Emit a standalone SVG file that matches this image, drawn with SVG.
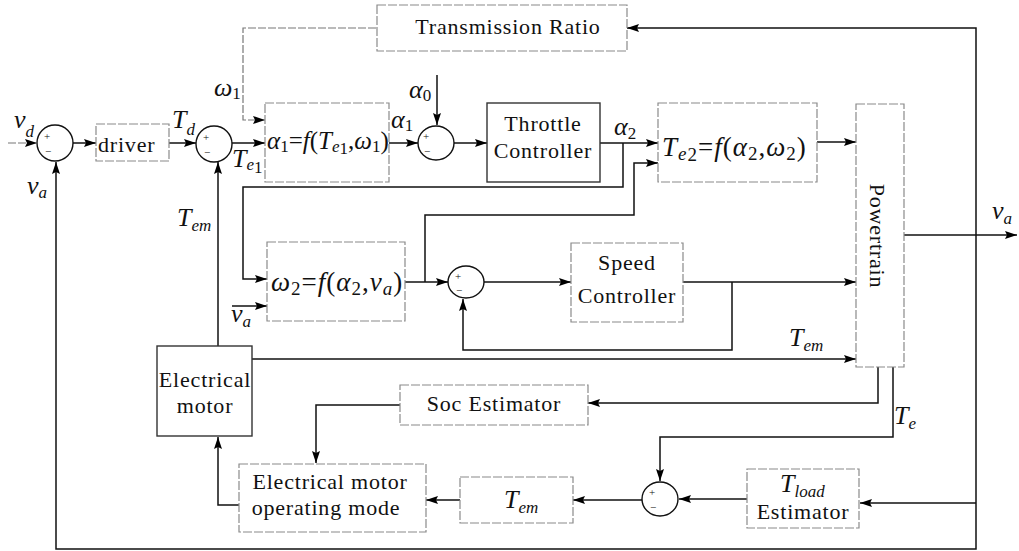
<svg xmlns="http://www.w3.org/2000/svg" width="1019" height="551" viewBox="0 0 1019 551" font-family="'Liberation Serif', 'DejaVu Serif', serif">
<defs>
<marker id="arr" viewBox="0 0 12 8" refX="12" refY="4" markerWidth="12" markerHeight="8" orient="auto" markerUnits="userSpaceOnUse"><path d="M0,0 L12,4 L0,8 L2,4 z" fill="#000"/></marker>
</defs>
<style>
.box{fill:#fff;stroke:#8a8a8a;stroke-width:1.2;stroke-dasharray:9 2}
.sbox{fill:#fff;stroke:#333;stroke-width:1.4}
.sum{fill:#fff;stroke:#111;stroke-width:1.4}
.w{fill:none;stroke:#111;stroke-width:1.5}
.a{marker-end:url(#arr)}
.dw{fill:none;stroke:#777;stroke-width:1.2;stroke-dasharray:8 2}
text{font-family:'Liberation Serif','DejaVu Serif',serif;fill:#111}
.t{font-size:22px;letter-spacing:0.8px}
.m{font-size:26px;font-style:italic}
.s{font-size:17px;font-style:italic}
.f{font-size:27px;font-style:italic;letter-spacing:1px}
.f1{font-size:25px;font-style:italic;letter-spacing:0}
.fs{font-size:19px;font-style:italic}
.n{font-style:normal}
.sg{font-size:11px}
</style>
<g id="connectors">
<path class="dw a" d="M8,143 H37"/>
<path class="w a" d="M73,143 H96"/>
<path class="w a" d="M169,143 H196"/>
<path class="w a" d="M232,143 H265"/>
<path class="w a" d="M976,235 V28 H627"/>
<path class="w a" d="M976,235 V549 H56 V162"/>
<path class="dw a" d="M376,28 H243 V120 H265"/>
<path class="w a" d="M218,346 V162"/>
<path class="w a" d="M389,143 H418"/>
<path class="w a" d="M437,75 V125"/>
<path class="w a" d="M454,143 H487"/>
<path class="w a" d="M600,143 H658"/>
<path class="w a" d="M623,143 V187 H243 V279 H267"/>
<path class="w a" d="M405,282 H448"/>
<path class="w a" d="M425,282 V215 H634 V163 H658"/>
<path class="w a" d="M232,306 H267"/>
<path class="w a" d="M484,282 H571"/>
<path class="w a" d="M683,282 H856"/>
<path class="w a" d="M732,282 V350 H463 V299"/>
<path class="w a" d="M817,142 H856"/>
<path class="w a" d="M252,359 H856"/>
<path class="w a" d="M904,235 H1017"/>
<path class="w a" d="M878,367 V403 H588"/>
<path class="w a" d="M893,367 V437 H660 V481"/>
<path class="w a" d="M400,405 H316 V463"/>
<path class="w a" d="M239,505 H218 V437"/>
<path class="w a" d="M460,500 H426"/>
<path class="w a" d="M642,500 H573"/>
<path class="w a" d="M747,499 H679"/>
<path class="w a" d="M976,503 H860"/>
</g>
<g id="labels">
<text class="m" x="14" y="128">v<tspan class="s" dy="9">d</tspan></text>
<text class="m" x="27" y="194">v<tspan class="s" dy="4">a</tspan></text>
<text class="m" x="172" y="128">T<tspan class="s" dy="7">d</tspan></text>
<text class="m" x="232" y="167">T<tspan class="s" dy="3">e</tspan><tspan class="s n" dy="3">1</tspan></text>
<text class="m" x="214" y="96">ω<tspan class="s n" dy="3">1</tspan></text>
<text class="m" x="391" y="128">α<tspan class="s n" dy="3">1</tspan></text>
<text class="m" x="409" y="98">α<tspan class="s n" dy="3">0</tspan></text>
<text class="m" x="614" y="135">α<tspan class="s n" dy="4">2</tspan></text>
<text class="m" x="177" y="226">T<tspan class="s" dy="5">em</tspan></text>
<text class="m" x="231" y="322">v<tspan class="s" dy="5">a</tspan></text>
<text class="m" x="789" y="346">T<tspan class="s" dy="5">em</tspan></text>
<text class="m" x="992" y="219">v<tspan class="s" dy="5">a</tspan></text>
<text class="m" x="894" y="424">T<tspan class="s" dy="5">e</tspan></text>
</g>
<g id="sum1"><ellipse class="sum" cx="55" cy="143" rx="18" ry="18"/><text class="sg" x="44" y="140">+</text><text class="sg" x="45" y="155">−</text></g>
<g id="sum2"><ellipse class="sum" cx="214" cy="144" rx="18" ry="18"/><text class="sg" x="203" y="141">+</text><text class="sg" x="204" y="156">−</text></g>
<g id="sum3"><ellipse class="sum" cx="436" cy="143" rx="18" ry="17"/><text class="sg" x="423" y="140">+</text><text class="sg" x="424" y="155">−</text></g>
<g id="sum4"><ellipse class="sum" cx="466" cy="282" rx="18" ry="16"/><text class="sg" x="455" y="280">+</text><text class="sg" x="456" y="294">−</text></g>
<g id="sum5"><ellipse class="sum" cx="660" cy="499" rx="18" ry="17"/><text class="sg" x="649" y="496">+</text><text class="sg" x="650" y="511">−</text></g>
<g id="driver"><rect class="box" x="96" y="124" width="73" height="37"/><text class="t" x="98" y="152">driver</text></g>
<g id="transmission"><rect class="box" x="377" y="5" width="250" height="46"/><text class="t" x="508" y="34" text-anchor="middle">Transmission Ratio</text></g>
<g id="alpha1"><rect class="box" x="265" y="103" width="124" height="79"/><text class="f1" x="267" y="149">α<tspan class="s n" dy="3">1</tspan><tspan class="n" dy="-3">=</tspan>f<tspan class="n">(</tspan>T<tspan class="s" dy="3">e</tspan><tspan class="s n" dy="2">1</tspan><tspan class="n" dy="-5">,</tspan>ω<tspan class="s n" dy="3">1</tspan><tspan class="n" dy="-3">)</tspan></text></g>
<g id="throttle"><rect class="sbox" x="487" y="103" width="113" height="79"/><text class="t" x="543" y="131" text-anchor="middle">Throttle</text><text class="t" x="543" y="158" text-anchor="middle">Controller</text></g>
<g id="te2"><rect class="box" x="658" y="103" width="159" height="79"/><text class="f" x="662" y="156">T<tspan class="fs" dy="4">e</tspan><tspan class="fs n" dy="1">2</tspan><tspan class="n" dy="-5">=</tspan>f<tspan class="n">(</tspan>α<tspan class="fs n" dy="4">2</tspan><tspan class="n" dy="-4">,</tspan>ω<tspan class="fs n" dy="4">2</tspan><tspan class="n" dy="-4">)</tspan></text></g>
<g id="omega2"><rect class="box" x="267" y="242" width="138" height="79"/><text class="f" x="271" y="291">ω<tspan class="fs n" dy="4">2</tspan><tspan class="n" dy="-4">=</tspan>f<tspan class="n">(</tspan>α<tspan class="fs n" dy="4">2</tspan><tspan class="n" dy="-4">,</tspan>v<tspan class="fs" dy="4">a</tspan><tspan class="n" dy="-4">)</tspan></text></g>
<g id="speed"><rect class="box" x="571" y="243" width="112" height="79"/><text class="t" x="627" y="270" text-anchor="middle">Speed</text><text class="t" x="627" y="303" text-anchor="middle">Controller</text></g>
<g id="powertrain"><rect class="box" x="856" y="104" width="48" height="263"/><text class="t" transform="translate(870,236) rotate(90)" text-anchor="middle">Powertrain</text></g>
<g id="motor"><rect class="sbox" x="157" y="346" width="95" height="90"/><text class="t" x="205" y="387" text-anchor="middle">Electrical</text><text class="t" x="205" y="413" text-anchor="middle">motor</text></g>
<g id="soc"><rect class="box" x="400" y="385" width="188" height="40"/><text class="t" x="494" y="411" text-anchor="middle">Soc Estimator</text></g>
<g id="mode"><rect class="box" x="239" y="464" width="187" height="68"/><text class="t" x="330" y="489" text-anchor="middle">Electrical motor</text><text class="t" x="326" y="515" text-anchor="middle">operating mode</text></g>
<g id="tem"><rect class="box" x="460" y="477" width="113" height="46"/><text class="m" x="504" y="508">T<tspan class="s" dy="5">em</tspan></text></g>
<g id="tload"><rect class="box" x="747" y="469" width="112" height="59"/><text class="m" x="780" y="492">T<tspan class="s" dy="5">load</tspan></text><text class="t" x="803" y="519" text-anchor="middle">Estimator</text></g>
</svg>
